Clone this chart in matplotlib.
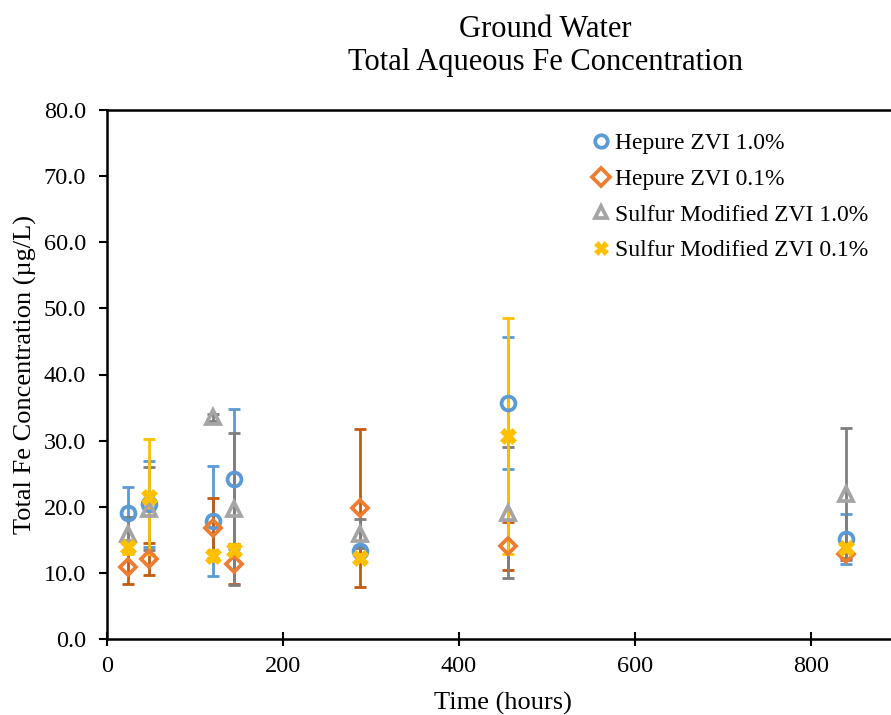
import matplotlib
matplotlib.use("Agg")
import matplotlib.pyplot as plt
from matplotlib.lines import Line2D

plt.rcParams['font.family'] = ['Liberation Serif', 'DejaVu Serif']

times = [24, 48, 120, 144, 288, 456, 840]

series_names = ["Hepure ZVI 1.0%", "Hepure ZVI 0.1%",
                "Sulfur Modified ZVI 1.0%", "Sulfur Modified ZVI 0.1%"]

hepure_10 = [19.0, 20.4, 17.8, 24.2, 13.3, 35.7, 15.1]
hepure_10_err = [4.0, 6.5, 8.3, 10.6, 0.8, 10.0, 3.8]

hepure_01 = [10.9, 12.1, 16.8, 11.3, 19.8, 14.1, 12.8]
hepure_01_err = [2.6, 2.4, 4.5, 3.0, 12.0, 3.6, 0.5]

sulfur_10 = [15.9, 19.7, 33.5, 19.7, 15.9, 19.1, 21.9]
sulfur_10_err = [2.6, 6.3, 0.5, 11.5, 2.2, 9.9, 10.0]

sulfur_01 = [13.9, 21.5, 12.6, 13.5, 12.3, 30.7, 13.8]
sulfur_01_err = [1.0, 8.7, 0.8, 0.8, 0.5, 17.9, 0.5]

values = [hepure_10, hepure_01, sulfur_10, sulfur_01]
errors = [hepure_10_err, hepure_01_err, sulfur_10_err, sulfur_01_err]

marker_colors = ["#5B9BD5", "#ED7D31", "#A5A5A5", "#FFC000"]
err_colors = ["#5B9BD5", "#C55A11", "#7F7F7F", "#FFC000"]
markers = ["o", "D", "^", "X"]
msizes = [10, 8.5, 10, 11]

fig = plt.figure(figsize=(8.91, 7.15), dpi=100)
ax = fig.add_axes([107/891, 76/715, 792/891, 529/715])

for v, e, ec in zip(values, errors, err_colors):
    ax.errorbar(times, v, yerr=e, fmt='none', ecolor=ec, elinewidth=2.0,
                capsize=4.5, capthick=2.0, zorder=2)

for v, mc, mk, ms in zip(values, marker_colors, markers, msizes):
    if mk == "X":
        ax.plot(times, v, linestyle='none', marker=mk, markersize=ms,
                markerfacecolor=mc, markeredgecolor=mc, markeredgewidth=0.5, zorder=3)
    else:
        ax.plot(times, v, linestyle='none', marker=mk, markersize=ms,
                markerfacecolor='none', markeredgecolor=mc, markeredgewidth=2.7, zorder=3)

ax.set_xlim(0, 900)
ax.set_ylim(0, 80)
ax.set_xticks([0, 200, 400, 600, 800])
ax.set_yticks([0, 10, 20, 30, 40, 50, 60, 70, 80])
ax.set_yticklabels([f"{t:.1f}" for t in [0, 10, 20, 30, 40, 50, 60, 70, 80]])
ax.tick_params(axis='x', direction='inout', length=10, width=1.5, labelsize=17.5, pad=7)
ax.tick_params(axis='y', direction='out', length=6, width=1.5, labelsize=17.5, pad=9)
for s in ['left', 'bottom', 'top']:
    ax.spines[s].set_linewidth(1.8)
ax.spines['right'].set_visible(False)

ax.set_xlabel("Time (hours)", fontsize=19, labelpad=11)
ax.set_ylabel("Total Fe Concentration (µg/L)", fontsize=19, labelpad=5)

fig.text(545/891, 1 - 15/715, "Ground Water\nTotal Aqueous Fe Concentration",
         ha='center', va='top', fontsize=22, linespacing=1.17)

handles = []
for mc, mk in zip(marker_colors, markers):
    if mk == "X":
        handles.append(Line2D([], [], linestyle='none', marker=mk, markersize=10,
                              markerfacecolor=mc, markeredgecolor=mc, markeredgewidth=0.5))
    else:
        handles.append(Line2D([], [], linestyle='none', marker=mk, markersize=9,
                              markerfacecolor='none', markeredgecolor=mc, markeredgewidth=2.7))
fig.legend(handles, series_names, loc='upper left',
           bbox_to_anchor=(580/891, 1 - 121/715), frameon=False, fontsize=17,
           handlelength=0.8, handletextpad=0.2, labelspacing=0.6, borderpad=0)

fig.savefig("out.png", dpi=100)
